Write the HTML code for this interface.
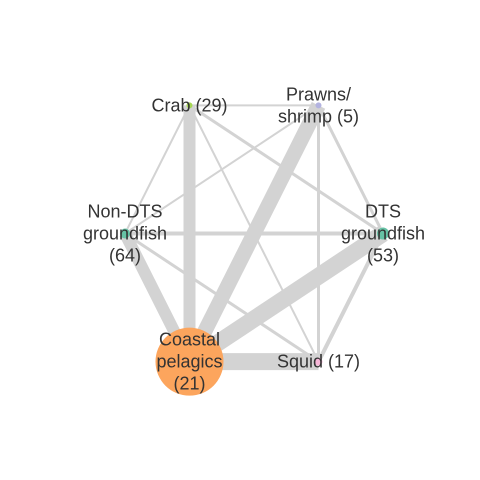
<!DOCTYPE html>
<html><head><meta charset="utf-8"><style>
body{margin:0;background:#fff;}
svg{display:block;}
text{font-family:"Liberation Sans",Arial,sans-serif;font-size:18px;fill:#333;}
</style></head><body>
<svg id="chart" width="480" height="480"></svg>
<script>
const nodeNames = ["Crab","Prawns/shrimp","DTS groundfish","Squid","Coastal pelagics","Non-DTS groundfish"];
const nodeCounts = [29,5,53,17,21,64];
const nodeSizes = [3,3,6,4,34,5];
const nodeColors = ["#a6d854","#b3b3e0","#66c2a5","#f7b6d8","#fca55d","#66c2a5"];
const edgeFrom = [0,1,2,3,5,0,0,0,0,1,1,1,5,5,2];
const edgeTo   = [4,4,4,4,4,1,2,3,5,5,2,3,2,3,3];
const edgeWeights = [12,15,17,17,12,2,3,2,2,2,3,3,4,3,4];

const svg = document.getElementById('chart');
const NS = 'http://www.w3.org/2000/svg';
const cx = 254, cy = 233.5, Rx = 129, Ry = 148;
function nodeX(i){ return cx + Rx*Math.cos(-Math.PI*2/3 + i*Math.PI/3); }
function nodeY(i){ return cy + Ry*Math.sin(-Math.PI*2/3 + i*Math.PI/3); }
for(let k=0;k<edgeFrom.length;k++){
  const a=edgeFrom[k], b=edgeTo[k];
  const l=document.createElementNS(NS,'line');
  l.setAttribute('x1',nodeX(a));l.setAttribute('y1',nodeY(a));
  l.setAttribute('x2',nodeX(b));l.setAttribute('y2',nodeY(b));
  l.setAttribute('stroke','#d3d3d3');l.setAttribute('stroke-width',edgeWeights[k]);
  
  
  svg.appendChild(l);
}
const labels = [
  {lines:["Crab ("+nodeCounts[0]+")"]},
  {lines:["Prawns/","shrimp ("+nodeCounts[1]+")"]},
  {lines:["DTS","groundfish","("+nodeCounts[2]+")"]},
  {lines:["Squid ("+nodeCounts[3]+")"]},
  {lines:["Coastal","pelagics","("+nodeCounts[4]+")"]},
  {lines:["Non-DTS","groundfish","("+nodeCounts[5]+")"]}
];
for(let i=0;i<nodeNames.length;i++){
  const c=document.createElementNS(NS,'circle');
  c.setAttribute('cx',nodeX(i));c.setAttribute('cy',nodeY(i));
  c.setAttribute('r',nodeSizes[i]);c.setAttribute('fill',nodeColors[i]);
  
  
  svg.appendChild(c);
}
for(let i=0;i<nodeNames.length;i++){
  const L=labels[i], n=L.lines.length;
  const t=document.createElementNS(NS,'text');
  t.setAttribute('text-anchor','middle');
  
  
  const y0=nodeY(i)-(n-1)*11+6;
  L.lines.forEach((s,j)=>{
    const ts=document.createElementNS(NS,'tspan');
    ts.setAttribute('x',nodeX(i));
    ts.setAttribute('y',y0+j*22);
    ts.textContent=s;t.appendChild(ts);
  });
  svg.appendChild(t);
}
</script>
</body></html>
